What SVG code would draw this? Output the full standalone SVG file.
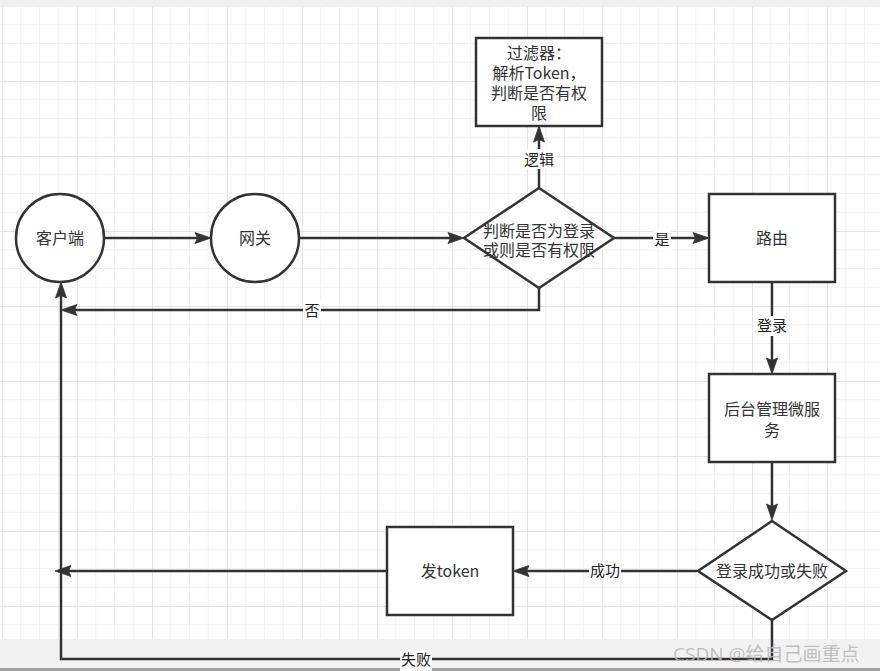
<svg xmlns="http://www.w3.org/2000/svg" width="880" height="671" viewBox="0 0 880 671">
<defs>
<pattern id="grid" patternUnits="userSpaceOnUse" x="2" y="6" width="75" height="75">
<path d="M18.75,0V75M37.5,0V75M56.25,0V75M0,18.75H75M0,37.5H75M0,56.25H75" stroke="#f2f2f2" stroke-width="1" fill="none"/>
<path d="M0.5,0V75M0,0.5H75" stroke="#e4e4e4" stroke-width="1" fill="none"/>
</pattern>
<marker id="arr" markerUnits="userSpaceOnUse" markerWidth="16" markerHeight="11" refX="3" refY="5.5" orient="auto" overflow="visible">
<path d="M0,0 L16,5.5 L0,11 L2.5,5.5 Z" fill="#333" stroke="#333" stroke-width="0.8" stroke-linejoin="miter"/>
</marker>
<style>
.node{fill:#fff;stroke:#333;stroke-width:2.5}
.t{font-family:"Noto Sans CJK SC","Open Sans",sans-serif;font-size:16px;fill:#333;text-anchor:middle}
.edge{fill:none;stroke:#333;stroke-width:2.5}
.lbg{fill:#fff}
.lbl{font-family:"Noto Sans CJK SC","Open Sans",sans-serif;font-size:15px;fill:#222;text-anchor:middle}
</style>
</defs>
<rect x="0" y="0" width="880" height="671" fill="#fff"/>
<rect x="0" y="7" width="880" height="632" fill="url(#grid)"/>
<rect x="0" y="0" width="880" height="7" fill="#f0f0f0"/>
<rect x="0" y="639" width="880" height="29" fill="#f2f2f2"/>
<rect x="0" y="668" width="880" height="3" fill="#a0a0a0"/>

<g id="connectors">
<path class="edge" d="M104,238 L198,238" marker-end="url(#arr)"/>
<path class="edge" d="M299,238 L451,238" marker-end="url(#arr)"/>
<path class="edge" d="M539,188 L539,139" marker-end="url(#arr)"/>
<path class="edge" d="M614,238 L696,238" marker-end="url(#arr)"/>
<path class="edge" d="M539,288 L539,310 L74,310" marker-end="url(#arr)"/>
<path class="edge" d="M772,282 L772,361" marker-end="url(#arr)"/>
<path class="edge" d="M772,462 L772,507" marker-end="url(#arr)"/>
<path class="edge" d="M697,571 L526,571" marker-end="url(#arr)"/>
<path class="edge" d="M387,571 L68,571" marker-end="url(#arr)"/>
<path class="edge" d="M772,620 L772,659 L61,659 L61,295" marker-end="url(#arr)"/>
<g id="labels">
<rect class="lbg" x="523" y="149" width="32" height="20"/><text class="lbl" x="539" y="165">逻辑</text>
<rect class="lbg" x="653" y="230" width="18" height="20"/><text class="lbl" x="662" y="245">是</text>
<rect class="lbg" x="303" y="301" width="18" height="20"/><text class="lbl" x="312" y="316">否</text>
<rect class="lbg" x="756" y="316" width="32" height="20"/><text class="lbl" x="772" y="331">登录</text>
<rect class="lbg" x="589" y="561" width="32" height="20"/><text class="lbl" x="605" y="576">成功</text>
<rect class="lbg" x="400" y="650" width="32" height="21"/><text class="lbl" x="416" y="665">失败</text>
</g>
</g>

<g id="client"><circle class="node" cx="60" cy="238" r="44"/><text class="t" x="60" y="244">客户端</text></g>
<g id="gateway"><circle class="node" cx="255" cy="238" r="44"/><text class="t" x="255" y="244">网关</text></g>
<g id="check"><polygon class="node" points="539,188 614,238 539,288 464,238"/><text class="t" x="539" y="237">判断是否为登录<tspan x="539" dy="19">或则是否有权限</tspan></text></g>
<g id="filter"><rect class="node" x="476" y="38" width="126" height="88"/>
<text class="t" x="539" y="59">过滤器：<tspan x="539" dy="20">解析Token，</tspan><tspan x="539" dy="20">判断是否有权</tspan><tspan x="539" dy="20">限</tspan></text></g>
<g id="route"><rect class="node" x="709" y="194" width="126" height="88"/><text class="t" x="772" y="244">路由</text></g>
<g id="backend"><rect class="node" x="709" y="374" width="126" height="88"/><text class="t" x="772" y="415">后台管理微服<tspan x="772" dy="21">务</tspan></text></g>
<g id="loginresult"><polygon class="node" points="772,521 846,571 772,620 698,571"/><text class="t" x="772" y="577">登录成功或失败</text></g>
<g id="token"><rect class="node" x="387" y="527" width="126" height="88"/><text class="t" x="450" y="577">发token</text></g>

<text x="673" y="661" font-family="'Open Sans','Noto Sans CJK SC',sans-serif" font-size="19" fill="#b8b8b8" fill-opacity="0.9">CSDN @给自己画重点</text>
</svg>
